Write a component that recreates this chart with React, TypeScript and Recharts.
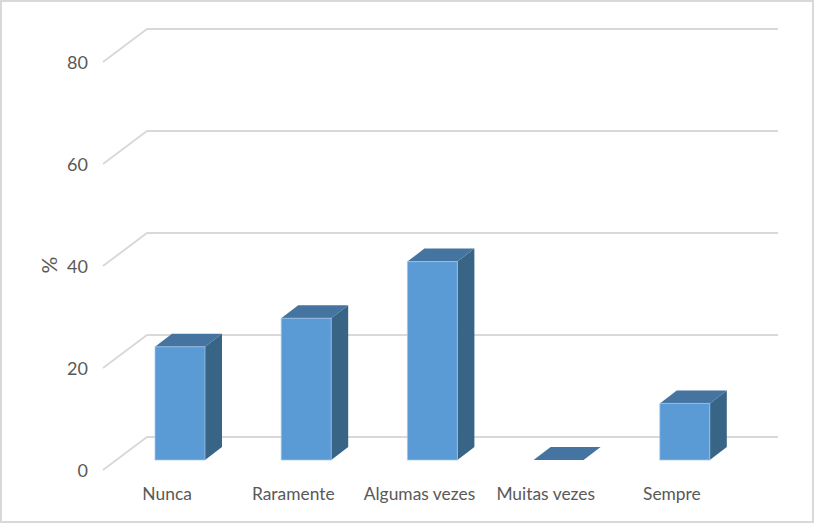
import { BarChart, Bar, XAxis, YAxis, CartesianGrid } from 'recharts'

const categories = ['Nunca', 'Raramente', 'Algumas vezes', 'Muitas vezes', 'Sempre']
const percentages = [22.2, 27.8, 38.9, 0, 11.1]
const yTicks = [0, 20, 40, 60, 80]

const rows = categories.map((name, i) => ({ name, value: percentages[i] }))

const TEXT = '#595959'
const FONT = 'Lato, Carlito, sans-serif'
const GRID = '#d9d9d9'

// ─── Fake 3D pieces ───────────────────────────────────────────────────────────

function Box3D({ x, y, width, height }: any) {
  const dx = 17
  const dy = 13
  return (
    <g>
      <path
        d={`M${x + width} ${y} L${x + width + dx} ${y - dy} V${y + height - dy} L${x + width} ${y + height} Z`}
        fill="#386486"
      />
      <path
        d={`M${x} ${y} L${x + dx} ${y - dy} H${x + width + dx} L${x + width} ${y} Z`}
        fill="#44749f"
      />
      {height > 0 && <rect x={x} y={y} width={width} height={height} fill="#5b9bd5" stroke="#a5c6e8" strokeOpacity={0.7} strokeWidth={1} />}
    </g>
  )
}

function WallLine({ y1 }: any) {
  return <path d={`M103 ${y1 + 10} L147 ${y1 - 23} H778`} fill="none" stroke={GRID} strokeWidth={2} />
}

function ValueTick({ y, payload }: any) {
  return (
    <text x={88} y={y + 11} dy="0.36em" textAnchor="end" fontSize={18} fontFamily={FONT} fill={TEXT}>
      {payload.value}
    </text>
  )
}

function CategoryTick({ x, payload }: any) {
  return (
    <text x={x - 13} y={494} dy="0.36em" textAnchor="middle" fontSize={17.4} fontFamily={FONT} fill={TEXT}>
      {payload.value}
    </text>
  )
}

function AxisTitle() {
  return (
    <text x={49} y={265} dy="0.36em" textAnchor="middle" transform="rotate(-90 49 265)" fontSize={21} fontFamily={FONT} fill={TEXT}>
      %
    </text>
  )
}

// ─── Chart ────────────────────────────────────────────────────────────────────

export default function App() {
  return (
    <div
      style={{
        position: 'absolute', left: 0, top: 0, width: 814, height: 523,
        boxSizing: 'border-box', border: `2px solid ${GRID}`, background: '#fff',
      }}
    >
      <div style={{ position: 'absolute', left: -2, top: -2 }}>
        <BarChart
          width={814}
          height={523}
          data={rows}
          barSize={50}
          margin={{ top: 52, right: 66, bottom: 62, left: 116 }}
        >
          <CartesianGrid vertical={false} horizontal={(p: any) => <WallLine key={p.y1} {...p} />} />
          <XAxis dataKey="name" height={1} axisLine={false} tickLine={false} interval={0} tick={<CategoryTick />} />
          <YAxis
            width={1}
            domain={[0, 80]}
            ticks={yTicks}
            axisLine={false}
            tickLine={false}
            tick={<ValueTick />}
            label={<AxisTitle />}
          />
          <Bar dataKey="value" isAnimationActive={false} shape={<Box3D />} />
        </BarChart>
      </div>
    </div>
  )
}
